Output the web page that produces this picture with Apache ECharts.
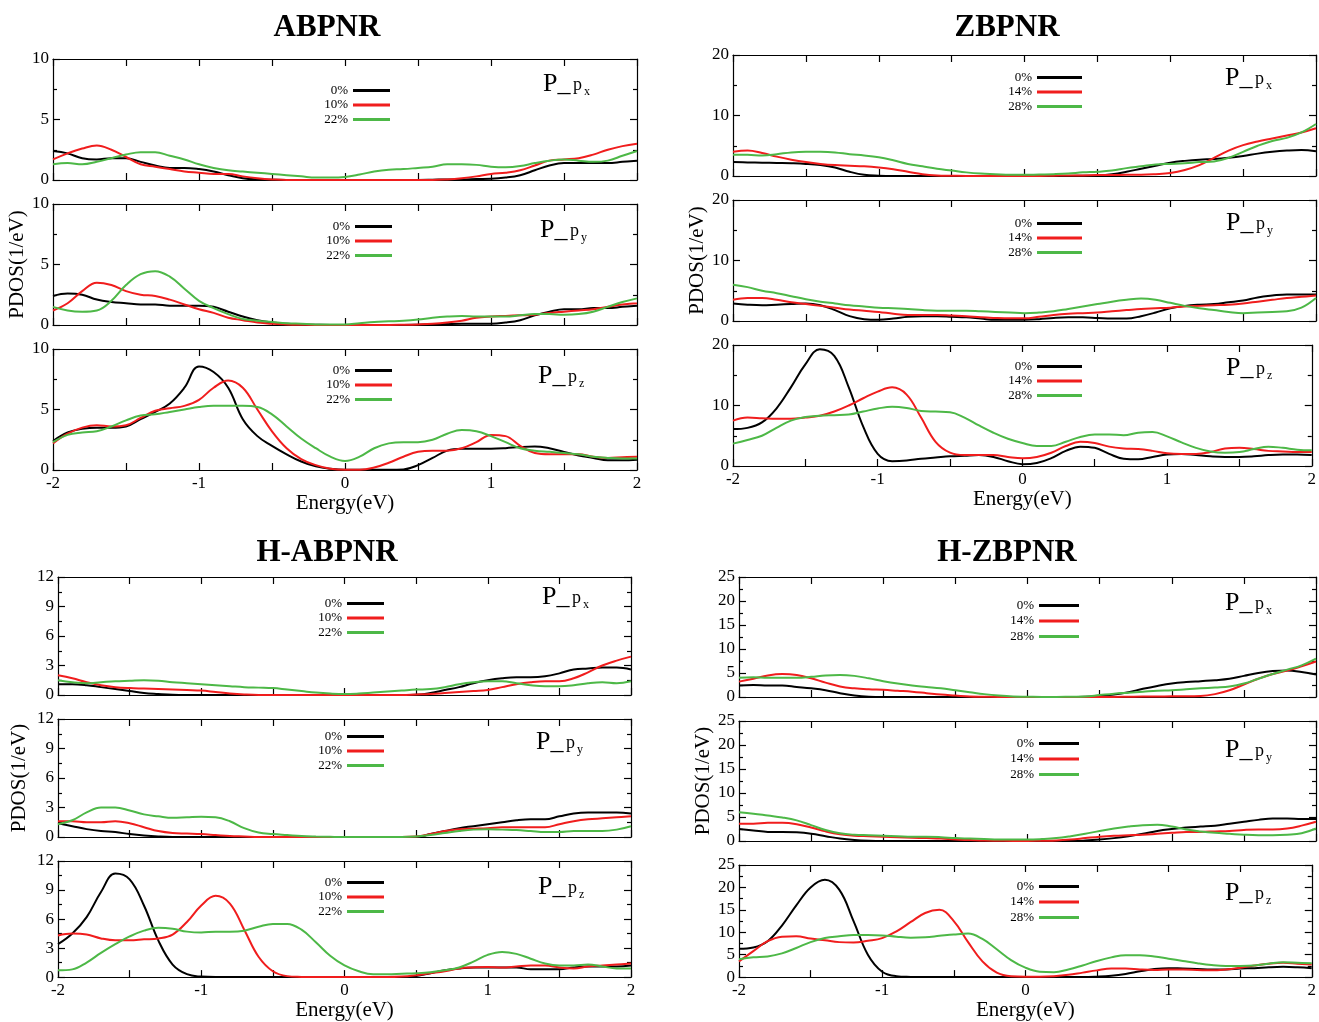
<!DOCTYPE html>
<html><head><meta charset="utf-8">
<script src="https://cdn.jsdelivr.net/npm/echarts@6/dist/echarts.min.js"></script>
<style>html,body{margin:0;padding:0;background:#fff}#c{width:1319px;height:1022px}</style>
</head><body><div id="c"></div>
<script>
// ---------- DATA ----------
const energy = [-2.0,-1.9,-1.8,-1.7,-1.6,-1.5,-1.4,-1.3,-1.2,-1.1,
  -1.0,-0.9,-0.8,-0.7,-0.6,-0.5,-0.4,-0.3,-0.2,-0.1,
  0.0,0.1,0.2,0.3,0.4,0.5,0.6,0.7,0.8,0.9,
  1.0,1.1,1.2,1.3,1.4,1.5,1.6,1.7,1.8,1.9,2.0];

const namesAB = ['0%','10%','22%'];
const namesZB = ['0%','14%','28%'];
const panelTitles = ['ABPNR','ZBPNR','H-ABPNR','H-ZBPNR'];
const xAxisName = 'Energy(eV)';
const yAxisName = 'PDOS(1/eV)';
const orbitalSubs = ['x','y','z'];

// ABPNR
const abpnr_px_0  = [2.4,2.2,1.8,1.7,1.8,1.8,1.5,1.2,1.0,1.0, 0.9,0.7,0.4,0.15,0.05,0.02,0,0,0,0, 0,0,0,0,0,0,0.02,0.05,0.05,0.08, 0.1,0.2,0.4,0.8,1.2,1.4,1.4,1.4,1.4,1.5,1.6];
const abpnr_px_10 = [1.7,2.2,2.6,2.85,2.5,1.9,1.3,1.1,0.9,0.7, 0.6,0.5,0.5,0.3,0.15,0.05,0,0,0,0, 0,0,0,0,0,0,0,0.05,0.15,0.3, 0.5,0.6,0.8,1.2,1.6,1.7,1.8,2.1,2.5,2.8,3.0];
const abpnr_px_22 = [1.3,1.4,1.3,1.5,1.8,2.1,2.3,2.3,2.0,1.7, 1.3,1.0,0.8,0.7,0.6,0.5,0.4,0.3,0.2,0.2, 0.25,0.45,0.7,0.85,0.9,1.0,1.1,1.3,1.3,1.25, 1.1,1.05,1.15,1.4,1.6,1.7,1.6,1.5,1.6,2.0,2.4];
const abpnr_py_0  = [2.4,2.6,2.5,2.1,1.9,1.8,1.7,1.7,1.6,1.6, 1.6,1.5,1.1,0.7,0.4,0.2,0.1,0.05,0.02,0, 0,0,0,0,0,0.02,0.05,0.08,0.1,0.1, 0.1,0.2,0.4,0.8,1.1,1.3,1.3,1.4,1.4,1.5,1.6];
const abpnr_py_10 = [1.2,1.8,2.8,3.5,3.3,2.8,2.5,2.4,2.1,1.7, 1.3,1.0,0.6,0.4,0.2,0.1,0.05,0.02,0,0, 0,0,0,0,0.02,0.05,0.1,0.2,0.35,0.6, 0.7,0.75,0.8,0.85,1.0,1.1,1.2,1.3,1.5,1.7,1.8];
const abpnr_py_22 = [1.5,1.2,1.1,1.2,2.0,3.3,4.2,4.45,4.0,3.0, 2.0,1.4,0.9,0.5,0.35,0.25,0.15,0.1,0.05,0.05, 0.05,0.15,0.25,0.3,0.35,0.45,0.6,0.7,0.75,0.7, 0.7,0.7,0.8,0.9,0.9,0.85,0.9,1.1,1.5,1.9,2.2];
const abpnr_pz_0  = [2.4,3.1,3.4,3.5,3.5,3.6,4.2,4.8,5.5,6.8, 8.55,8.1,6.8,4.2,2.8,2.0,1.3,0.7,0.3,0.1, 0.02,0.02,0.02,0.02,0.05,0.4,1.0,1.6,1.75,1.75, 1.75,1.8,1.9,1.95,1.8,1.5,1.2,1.0,0.8,0.8,0.85];
const abpnr_pz_10 = [2.2,3.0,3.5,3.7,3.6,3.7,4.3,4.9,5.1,5.3, 5.8,6.8,7.4,6.8,5.0,3.2,1.8,0.9,0.4,0.1, 0.02,0.02,0.2,0.6,1.1,1.5,1.6,1.6,1.8,2.3, 2.9,2.8,2.0,1.4,1.3,1.3,1.3,1.1,1.0,1.05,1.1];
const abpnr_pz_22 = [2.3,2.9,3.1,3.2,3.6,4.1,4.5,4.6,4.8,5.0, 5.2,5.3,5.3,5.3,5.2,4.6,3.6,2.6,1.8,1.1, 0.75,1.1,1.8,2.2,2.3,2.3,2.5,3.0,3.3,3.2, 2.8,2.3,1.8,1.6,1.5,1.4,1.3,1.1,1.0,0.95,0.95];

// ZBPNR
const zbpnr_px_0  = [2.3,2.25,2.2,2.15,2.1,2.0,1.8,1.4,0.7,0.2, 0.05,0,0,0,0,0,0,0,0,0, 0,0,0,0,0.05,0.1,0.3,0.7,1.2,1.7, 2.2,2.5,2.7,2.8,3.0,3.3,3.7,4.0,4.2,4.3,4.1];
const zbpnr_px_14 = [4.0,4.2,3.8,3.2,2.7,2.3,2.0,1.8,1.7,1.6, 1.4,1.1,0.7,0.3,0.1,0.05,0,0,0,0, 0,0,0.05,0.1,0.1,0.15,0.15,0.2,0.2,0.3, 0.5,1.0,1.8,3.0,4.2,5.1,5.7,6.2,6.7,7.2,7.9];
const zbpnr_px_28 = [3.5,3.5,3.4,3.6,3.9,4.0,4.0,3.9,3.6,3.4, 3.1,2.6,2.0,1.6,1.2,0.9,0.6,0.4,0.3,0.2, 0.2,0.25,0.3,0.4,0.6,0.7,0.9,1.3,1.6,1.9, 2.0,2.1,2.3,2.4,3.0,4.0,5.0,5.8,6.3,7.2,8.6];
const zbpnr_py_0  = [2.9,2.7,2.6,2.7,2.8,2.9,2.6,1.8,0.8,0.3, 0.2,0.4,0.7,0.8,0.8,0.7,0.6,0.4,0.2,0.2, 0.2,0.3,0.5,0.6,0.6,0.5,0.4,0.4,0.8,1.4, 2.1,2.5,2.7,2.8,3.1,3.4,3.9,4.2,4.4,4.4,4.4];
const zbpnr_py_14 = [3.5,3.8,3.8,3.5,3.1,2.8,2.5,2.2,1.9,1.7, 1.5,1.2,1.0,1.0,1.0,0.9,0.8,0.6,0.5,0.45, 0.45,0.7,1.0,1.2,1.3,1.4,1.6,1.8,2.0,2.1, 2.2,2.4,2.5,2.6,2.7,2.9,3.2,3.5,3.8,4.0,4.2];
const zbpnr_py_28 = [6.0,5.6,5.0,4.6,4.1,3.6,3.2,2.9,2.6,2.4, 2.2,2.1,2.0,1.8,1.7,1.7,1.7,1.6,1.5,1.4, 1.3,1.4,1.6,2.0,2.4,2.8,3.2,3.5,3.7,3.5, 3.0,2.5,2.1,1.8,1.5,1.3,1.4,1.5,1.6,2.2,3.8];
const zbpnr_pz_0  = [6.1,6.3,7.2,9.5,13.0,16.8,19.3,18.2,13.0,6.5, 2.0,0.8,0.9,1.2,1.4,1.6,1.7,1.8,1.5,0.8, 0.3,0.5,1.3,2.5,3.2,3.0,2.0,1.2,1.1,1.5, 1.9,2.0,1.8,1.6,1.5,1.5,1.6,1.8,1.9,1.9,1.8];
const zbpnr_pz_14 = [7.5,8.0,7.9,7.8,7.8,8.0,8.3,9.0,10.0,11.2, 12.3,13.0,11.8,8.0,4.0,2.2,1.8,1.8,1.8,1.5, 1.3,1.5,2.2,3.3,4.0,3.8,3.2,2.9,2.8,2.5, 2.1,2.0,2.0,2.3,2.9,3.0,2.8,2.5,2.4,2.3,2.3];
const zbpnr_pz_28 = [3.7,4.3,5.0,6.3,7.5,8.1,8.3,8.4,8.5,9.0, 9.5,9.8,9.6,9.1,9.0,8.9,8.0,6.7,5.5,4.5, 3.8,3.3,3.3,4.0,4.8,5.2,5.2,5.1,5.5,5.6, 4.9,3.9,3.0,2.4,2.2,2.3,2.8,3.2,3.0,2.7,2.6];

// H-ABPNR
const habpnr_px_0  = [1.1,1.1,1.0,0.8,0.6,0.4,0.2,0.1,0.02,0, 0,0,0,0,0,0,0,0,0,0, 0,0,0,0,0,0.02,0.2,0.5,0.8,1.2, 1.5,1.7,1.8,1.8,1.9,2.2,2.6,2.7,2.8,2.8,2.6];
const habpnr_px_10 = [2.0,1.7,1.3,1.0,0.8,0.7,0.65,0.6,0.55,0.5, 0.45,0.3,0.15,0.05,0,0,0,0,0,0, 0,0,0,0,0,0.05,0.1,0.2,0.3,0.4, 0.5,0.8,1.1,1.3,1.4,1.4,1.7,2.3,3.0,3.5,3.9];
const habpnr_px_22 = [1.5,1.3,1.2,1.3,1.4,1.45,1.5,1.45,1.3,1.2, 1.1,1.0,0.9,0.8,0.75,0.7,0.55,0.4,0.25,0.15, 0.1,0.15,0.25,0.35,0.45,0.55,0.6,0.8,1.1,1.3, 1.4,1.4,1.2,1.0,0.9,0.9,1.0,1.2,1.3,1.2,1.4];
const habpnr_py_0  = [1.4,1.1,0.8,0.6,0.5,0.3,0.15,0.05,0,0, 0,0,0,0,0,0,0,0,0,0, 0,0,0,0,0,0,0.3,0.6,0.9,1.1, 1.3,1.5,1.7,1.8,1.8,2.1,2.4,2.5,2.5,2.5,2.4];
const habpnr_py_10 = [1.6,1.6,1.5,1.5,1.6,1.4,1.0,0.6,0.4,0.35, 0.3,0.2,0.1,0.05,0,0,0,0,0,0, 0,0,0,0,0,0.05,0.3,0.6,0.8,0.85, 0.9,1.0,1.0,1.0,1.0,1.3,1.6,1.8,1.9,2.0,2.1];
const habpnr_py_22 = [1.3,1.7,2.5,3.0,3.0,2.7,2.3,2.1,1.95,2.0, 2.05,2.0,1.6,0.9,0.45,0.3,0.2,0.1,0.05,0.02, 0,0,0,0,0,0.05,0.2,0.4,0.6,0.75, 0.8,0.75,0.7,0.6,0.5,0.5,0.6,0.6,0.6,0.75,1.1];
const habpnr_pz_0  = [3.4,4.5,6.2,8.8,10.7,10.1,7.4,3.8,1.3,0.3, 0.05,0,0,0,0,0,0,0,0,0, 0,0,0,0,0,0.1,0.4,0.7,0.9,1.0, 1.0,1.0,1.0,0.8,0.8,0.8,1.0,1.1,1.1,1.1,1.2];
const habpnr_pz_10 = [4.3,4.5,4.4,4.0,3.8,3.8,3.9,4.0,4.4,5.7, 7.4,8.4,7.6,4.9,2.1,0.6,0.1,0.02,0,0, 0,0,0,0,0.05,0.2,0.4,0.6,0.9,1.0, 1.05,1.0,1.1,1.2,1.2,1.0,0.9,1.1,1.2,1.3,1.4];
const habpnr_pz_22 = [0.7,0.8,1.5,2.5,3.4,4.2,4.8,5.1,5.0,4.7, 4.6,4.7,4.7,4.8,5.2,5.5,5.5,4.9,3.6,2.2, 1.2,0.6,0.3,0.3,0.35,0.4,0.5,0.7,1.0,1.6, 2.3,2.6,2.4,1.9,1.4,1.2,1.2,1.3,1.1,0.9,0.9];

// H-ZBPNR
const hzbpnr_px_0  = [2.4,2.5,2.4,2.4,2.1,1.8,1.4,0.8,0.3,0.05, 0,0,0,0,0,0,0,0,0,0, 0,0,0,0,0.05,0.2,0.5,1.0,1.7,2.3, 2.8,3.1,3.3,3.5,3.8,4.4,5.0,5.4,5.5,5.2,4.7];
const hzbpnr_px_14 = [3.2,3.8,4.5,4.8,4.6,3.9,3.0,2.2,1.8,1.6, 1.5,1.3,1.1,0.8,0.5,0.3,0.1,0.05,0,0, 0,0,0,0,0,0,0,0.05,0.1,0.1, 0.15,0.15,0.2,0.6,1.4,2.6,3.8,4.8,5.5,6.4,7.4];
const hzbpnr_px_28 = [4.0,4.1,4.0,4.0,4.0,4.2,4.5,4.6,4.4,3.9, 3.3,2.8,2.4,2.1,1.8,1.4,1.0,0.6,0.3,0.1, 0.05,0,0,0.05,0.1,0.4,0.7,0.9,1.1,1.3, 1.4,1.6,1.8,2.0,2.2,2.8,3.8,4.8,5.7,6.6,8.0];
const hzbpnr_py_0  = [2.5,2.2,1.9,1.9,1.8,1.5,1.0,0.5,0.2,0.05, 0,0,0,0,0,0,0,0,0,0, 0,0,0,0,0.1,0.3,0.6,1.0,1.5,2.1, 2.5,2.8,3.0,3.2,3.6,4.0,4.4,4.7,4.7,4.6,4.6];
const hzbpnr_py_14 = [3.6,3.6,3.8,3.8,3.5,2.8,2.0,1.4,1.1,1.0, 0.9,0.8,0.7,0.6,0.5,0.3,0.2,0.1,0.05,0, 0,0.05,0.1,0.3,0.6,0.9,1.1,1.2,1.3,1.5, 1.7,1.9,1.9,2.0,2.1,2.3,2.4,2.4,2.6,3.2,4.0];
const hzbpnr_py_28 = [6.0,5.7,5.3,4.9,4.3,3.3,2.3,1.6,1.3,1.2, 1.1,1.0,0.9,0.9,0.8,0.6,0.5,0.4,0.3,0.3, 0.3,0.4,0.6,1.0,1.5,2.1,2.6,3.0,3.3,3.4, 3.0,2.4,2.0,1.7,1.5,1.3,1.2,1.2,1.3,1.6,2.6];
const hzbpnr_pz_0  = [6.3,6.6,8.0,11.5,16.0,20.0,21.7,19.5,12.5,5.0, 1.2,0.2,0.05,0,0,0,0,0,0,0, 0,0,0,0,0,0.1,0.3,0.7,1.3,1.8, 2.0,1.9,1.8,1.7,1.7,1.9,2.0,2.2,2.3,2.2,2.0];
const hzbpnr_pz_14 = [3.5,5.8,8.0,9.0,9.1,8.6,8.2,7.8,7.7,8.1, 8.7,10.2,12.3,14.3,15.0,12.5,7.8,3.5,1.0,0.2, 0.1,0.1,0.2,0.5,1.0,1.5,1.9,1.9,1.7,1.6, 1.7,1.7,1.6,1.5,1.7,2.1,2.6,3.0,3.2,3.0,2.8];
const hzbpnr_pz_28 = [4.0,4.4,4.6,5.3,6.5,7.8,8.7,9.1,9.4,9.4, 9.3,9.0,8.8,8.9,9.2,9.5,9.7,8.5,6.2,3.8, 2.1,1.2,1.1,1.7,2.6,3.6,4.4,4.9,4.9,4.6, 4.1,3.6,3.1,2.7,2.5,2.5,2.6,3.0,3.3,3.2,3.1];

// ---------- LAYOUT ----------
const FONT = "'Liberation Serif','Times New Roman',serif";
const COLORS = ['#000000', '#f01d1d', '#4db847'];

const panels = [
  { title: panelTitles[0], tx: 327, ty: 28, left: 53, width: 584, tops: [59,204,349], height: 121,
    ymax: 10, yint: 5, names: namesAB,
    data: [[abpnr_px_0,abpnr_px_10,abpnr_px_22],[abpnr_py_0,abpnr_py_10,abpnr_py_22],[abpnr_pz_0,abpnr_pz_10,abpnr_pz_22]],
    legRight: [929,927,927], legTops: [84,220,364], legW: 37, legGap: 1.5,
    pX: [543,540,538], pY: [84,230,376], nameGapY: 23, nameGapX: 16 },
  { title: panelTitles[1], tx: 1007, ty: 28, left: 733, width: 583, tops: [55,200,345], height: 121,
    ymax: 20, yint: 10, names: namesZB,
    data: [[zbpnr_px_0,zbpnr_px_14,zbpnr_px_28],[zbpnr_py_0,zbpnr_py_14,zbpnr_py_28],[zbpnr_pz_0,zbpnr_pz_14,zbpnr_pz_28]],
    legRight: [237,237,237], legTops: [71,217,360], legW: 45, legGap: 1.5,
    pX: [1225,1226,1226], pY: [78,223,368], nameGapY: 19, nameGapX: 15 },
  { title: panelTitles[2], tx: 327, ty: 553, left: 58, width: 573, tops: [577,719,861], height: 118,
    ymax: 12, yint: 3, names: namesAB,
    data: [[habpnr_px_0,habpnr_px_10,habpnr_px_22],[habpnr_py_0,habpnr_py_10,habpnr_py_22],[habpnr_pz_0,habpnr_pz_10,habpnr_pz_22]],
    legRight: [935,935,935], legTops: [597,730,876], legW: 37, legGap: 1.5,
    pX: [542,536,538], pY: [597,742,887], nameGapY: 28, nameGapX: 16 },
  { title: panelTitles[3], tx: 1007, ty: 553, left: 739, width: 577, tops: [577,721,865], height: 120,
    ymax: 25, yint: 5, names: namesZB,
    data: [[hzbpnr_px_0,hzbpnr_px_14,hzbpnr_px_28],[hzbpnr_py_0,hzbpnr_py_14,hzbpnr_py_28],[hzbpnr_pz_0,hzbpnr_pz_14,hzbpnr_pz_28]],
    legRight: [240,240,240], legTops: [599,737,880], legW: 40, legGap: 2.5,
    pX: [1225,1225,1225], pY: [603,750,893], nameGapY: 24, nameGapX: 17 }
];

const grid = [], xAxis = [], yAxis = [], series = [], legend = [], graphic = [];
const axisLineStyle = { color: '#000', width: 1.2 };
const labelStyle = { fontFamily: FONT, fontSize: 17, color: '#000' };

panels.forEach((p) => {
  graphic.push({ type: 'text', x: p.tx, y: p.ty,
    style: { text: p.title, font: "bold 31px 'Liberation Serif', serif", fill: '#000', textAlign: 'center', textVerticalAlign: 'middle' } });
  for (let s = 0; s < 3; s++) {
    const g = grid.length;
    grid.push({ left: p.left, top: p.tops[s], width: p.width, height: p.height, containLabel: false });
    const bottomAxis = s === 2;
    xAxis.push({ type: 'value', gridIndex: g, position: 'bottom', min: -2, max: 2, interval: 0.5,
      axisLine: { show: true, onZero: false, lineStyle: axisLineStyle },
      axisTick: { show: true, inside: true, length: 7, lineStyle: axisLineStyle },
      axisLabel: { show: bottomAxis, margin: 5, ...labelStyle, formatter: v => Number.isInteger(v) ? String(v) : '' },
      splitLine: { show: false },
      name: bottomAxis ? xAxisName : '', nameLocation: 'middle', nameGap: p.nameGapX,
      nameTextStyle: { fontFamily: FONT, fontSize: 21, color: '#000' } });
    xAxis.push({ type: 'value', gridIndex: g, position: 'top', min: -2, max: 2, interval: 0.5,
      axisLine: { show: true, onZero: false, lineStyle: axisLineStyle },
      axisTick: { show: true, inside: true, length: 7, lineStyle: axisLineStyle },
      axisLabel: { show: false }, splitLine: { show: false } });
    yAxis.push({ type: 'value', gridIndex: g, position: 'left', min: 0, max: p.ymax, interval: p.yint,
      axisLine: { show: true, onZero: false, lineStyle: axisLineStyle },
      axisTick: { show: true, inside: true, length: 7, lineStyle: axisLineStyle },
      minorTick: { show: true, splitNumber: 2, length: 4, lineStyle: axisLineStyle },
      axisLabel: { show: true, margin: 4, ...labelStyle },
      splitLine: { show: false }, minorSplitLine: { show: false },
      name: s === 1 ? yAxisName : '', nameLocation: 'middle', nameGap: p.nameGapY,
      nameTextStyle: { fontFamily: FONT, fontSize: 21, color: '#000' } });
    yAxis.push({ type: 'value', gridIndex: g, position: 'right', min: 0, max: p.ymax, interval: p.yint,
      axisLine: { show: true, onZero: false, lineStyle: axisLineStyle },
      axisTick: { show: true, inside: true, length: 7, lineStyle: axisLineStyle },
      minorTick: { show: true, splitNumber: 2, length: 4, lineStyle: axisLineStyle },
      axisLabel: { show: false }, splitLine: { show: false }, minorSplitLine: { show: false } });

    for (let k = 0; k < 3; k++) {
      const vals = p.data[s][k];
      series.push({ type: 'line', name: p.names[k], xAxisIndex: 2 * g, yAxisIndex: 2 * g,
        data: energy.map((x, i) => [x, vals[i]]),
        smooth: 0.4, symbol: 'none', showSymbol: false, silent: true,
        lineStyle: { width: 2, color: COLORS[k] }, itemStyle: { color: COLORS[k] } });
    }
    legend.push({ show: true, orient: 'vertical', align: 'right', right: p.legRight[s], top: p.legTops[s],
      padding: 0, itemGap: p.legGap, itemWidth: p.legW, itemHeight: 3, icon: 'rect', selectedMode: false,
      data: p.names.slice(), textStyle: { fontFamily: FONT, fontSize: 13, color: '#000' } });

    const px = p.pX[s], py = p.pY[s];
    graphic.push({ type: 'text', x: px, y: py,
      style: { text: 'P_', font: "26px 'Liberation Serif', serif", fill: '#000', textAlign: 'left', textVerticalAlign: 'middle' } });
    graphic.push({ type: 'text', x: px + 30, y: py + 1,
      style: { text: 'p', font: "18px 'Liberation Serif', serif", fill: '#000', textAlign: 'left', textVerticalAlign: 'middle' } });
    graphic.push({ type: 'text', x: px + 41, y: py + 8,
      style: { text: orbitalSubs[s], font: "12px 'Liberation Serif', serif", fill: '#000', textAlign: 'left', textVerticalAlign: 'middle' } });
  }
});

const chart = echarts.init(document.getElementById('c'), null, { renderer: 'canvas' });
chart.setOption({
  backgroundColor: '#ffffff',
  animation: false,
  grid, xAxis, yAxis, series, legend, graphic
});
</script></body></html>
